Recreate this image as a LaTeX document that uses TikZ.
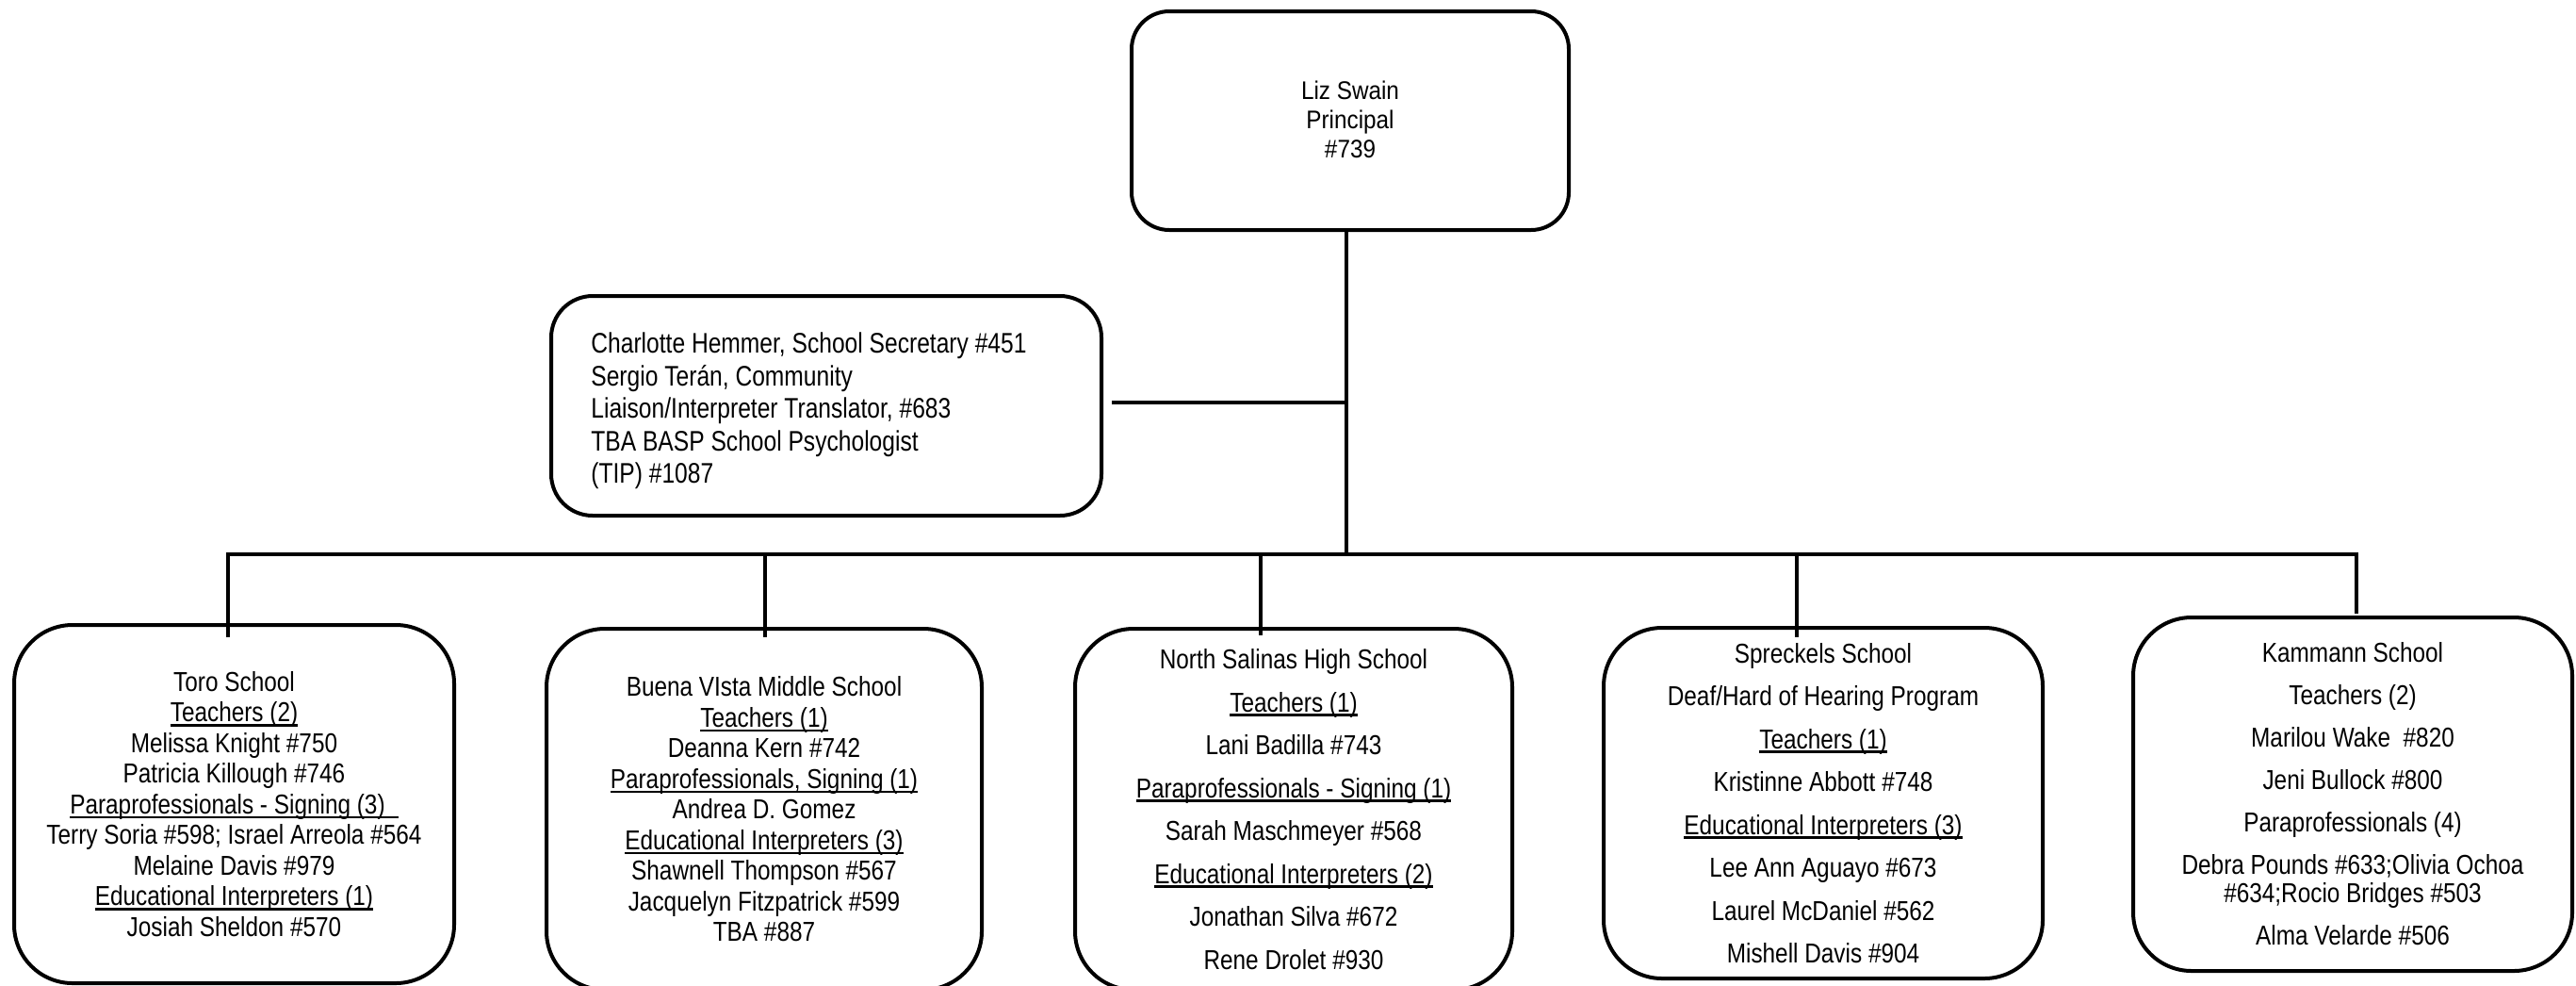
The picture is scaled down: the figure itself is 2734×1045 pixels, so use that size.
\documentclass[tikz,border=0pt]{standalone}
\usepackage{fontspec}
\setmainfont{Liberation Sans}
\newfontfamily\nfa{Liberation Sans}[FakeStretch=0.84]
\newfontfamily\nfb{Liberation Sans}[FakeStretch=0.82]
\newfontfamily\nfc{Liberation Sans}[FakeStretch=0.9]
\newcommand\ulx[1]{\setbox0=\hbox{#1}\rlap{\rule[-2.4pt]{\wd0}{1.3pt}}\box0}
\begin{document}
\begin{tikzpicture}[x=0.5pt,y=-0.5pt,
  box/.style={draw=black, line width=2pt, rounded corners=#1, inner sep=0pt, fill=white},
  conn/.style={draw=black, line width=2pt, line join=miter},
  smalltxt/.style={font=\nfa\fontsize{14.5pt}{16.25pt}\selectfont, align=center},
  widetxt/.style={font=\nfa\fontsize{14.5pt}{22.75pt}\selectfont, align=center}]
\clip (0,0) rectangle (2734,1045);
\fill[white] (0,0) rectangle (2734,1045);

% principal
\node[box=20pt, minimum width=232pt, minimum height=116pt] (pr) at (1433,128) {};
\node[font=\nfc\fontsize{13.5pt}{15.5pt}\selectfont, align=center, inner sep=0pt] (prt) at (1433,127)
  {Liz Swain\\Principal\\\#739};

% secretary
\node[box=22pt, minimum width=292pt, minimum height=116.5pt] (sec) at (877,430.5) {};
\node[font=\nfb\fontsize{15pt}{17.25pt}\selectfont, align=left, inner sep=0pt, anchor=west] (sect) at (627,436)
  {Charlotte Hemmer, School Secretary \#451\\Sergio Terán, Community\\Liaison/Interpreter Translator, \#683\\TBA BASP School Psychologist\\(TIP) \#1087};

% bottom boxes
\node[box=31pt, minimum width=233.5pt, minimum height=190pt, smalltxt] (toro) at (248.5,853)
  {Toro School\\\ulx{Teachers (2)}\\Melissa Knight \#750\\Patricia Killough \#746\\\ulx{Paraprofessionals - Signing (3)\kern7pt}\\Terry Soria \#598; Israel Arreola \#564\\Melaine Davis \#979\\\ulx{Educational Interpreters (1)}\\Josiah Sheldon \#570};

\node[box=31pt, minimum width=231pt, minimum height=191.5pt, smalltxt] (buena) at (811,858.5)
  {Buena VIsta Middle School\\\ulx{Teachers (1)}\\Deanna Kern \#742\\\ulx{Paraprofessionals, Signing (1)}\\Andrea D. Gomez\\\ulx{Educational Interpreters (3)}\\Shawnell Thompson \#567\\Jacquelyn Fitzpatrick \#599\\TBA \#887};

\node[box=31pt, minimum width=232pt, minimum height=191.5pt, widetxt] (ns) at (1373,858.5)
  {North Salinas High School\\\ulx{Teachers (1)}\\Lani Badilla \#743\\\ulx{Paraprofessionals - Signing (1)}\\Sarah Maschmeyer \#568\\\ulx{Educational Interpreters (2)}\\Jonathan Silva \#672\\Rene Drolet \#930};

\node[box=31pt, minimum width=233pt, minimum height=186pt, widetxt] (spr) at (1935,852)
  {Spreckels School\\Deaf/Hard of Hearing Program\\\ulx{Teachers (1)}\\Kristinne Abbott \#748\\\ulx{Educational Interpreters (3)}\\Lee Ann Aguayo \#673\\Laurel McDaniel \#562\\Mishell Davis \#904};

\node[box=31pt, minimum width=233pt, minimum height=187.5pt, font=\nfa\fontsize{14.5pt}{22.5pt}\selectfont, align=center] (kam) at (2497,842.5)
  {Kammann School\\Teachers (2)\\Marilou Wake\ \ \#820\\Jeni Bullock \#800\\Paraprofessionals (4)\\Debra Pounds \#633;Olivia Ochoa\\[-7.5pt]\#634;Rocio Bridges \#503\\Alma Velarde \#506};

% connectors
\coordinate (j1) at (1429,588);
\coordinate (j2) at (1429,427);
\coordinate (d1) at (242,588);
\coordinate (d2) at (812,588);
\coordinate (d3) at (1338,588);
\coordinate (d4) at (1907,588);
\coordinate (d5) at (2501,588);

\draw[conn] (pr.south -| j1) -- (j1);
\draw[conn] ([xshift=4.5pt]sec.east |- j2) -- (j2);
\draw[conn] ([yshift=-7.5pt]toro.north -| d1) -- (d1) -- (d5) -- ([yshift=1pt]kam.north -| d5);
\draw[conn] (d2) -- ([yshift=-5.5pt]buena.north -| d2);
\draw[conn] (d3) -- ([yshift=-4.5pt]ns.north -| d3);
\draw[conn] (d4) -- ([yshift=-6pt]spr.north -| d4);
\end{tikzpicture}
\end{document}
